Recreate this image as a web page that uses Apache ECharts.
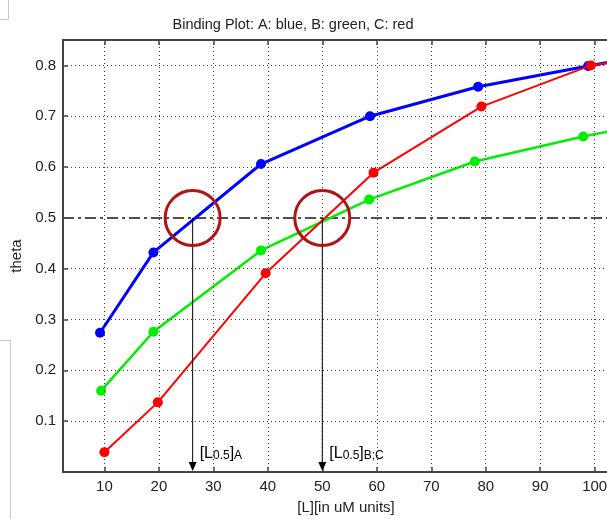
<!DOCTYPE html>
<html>
<head>
<meta charset="utf-8">
<script src="https://cdn.jsdelivr.net/npm/echarts@6/dist/echarts.min.js"></script>
<style>
  html, body { margin: 0; padding: 0; background: #fff; }
  #chart { width: 607px; height: 519px; }
</style>
</head>
<body>
<div id="chart"></div>
<script>
// Fractional saturation (theta) against ligand concentration for three proteins
const concA = [9.2, 19.0, 38.75, 58.75, 78.6, 98.8, 118.5];
const thetaA = [0.274, 0.432, 0.606, 0.700, 0.758, 0.799, 0.836];
const concB = [9.4, 19.0, 38.75, 58.6, 78.0, 97.9, 118.5];
const thetaB = [0.160, 0.276, 0.436, 0.536, 0.611, 0.660, 0.705];
const concC = [10.0, 19.8, 39.6, 59.4, 79.2, 99.3, 118.5];
const thetaC = [0.039, 0.137, 0.391, 0.589, 0.719, 0.800, 0.830];

// Half-saturation concentrations and their labels
const halfTheta = 0.5;
const halfConc = [26.2, 50.0];
const halfSubs = ['A', 'B;C'];

const xTicks = [10, 20, 30, 40, 50, 60, 70, 80, 90, 100];
const yTicks = [0.1, 0.2, 0.3, 0.4, 0.5, 0.6, 0.7, 0.8];

const X_MIN = 2.4, X_MAX = 106.3;
const FONT = 'Liberation Sans';
const pairs = (xs, ys) => xs.map((x, i) => [x, ys[i]]);

const chart = echarts.init(document.getElementById('chart'), null, { renderer: 'canvas' });

const frameLine = { lineStyle: { color: '#454545', width: 2 } };
const tickLine = { color: '#454545', width: 1.5 };

chart.setOption({
  backgroundColor: '#ffffff',
  animation: false,
  title: {
    text: 'Binding Plot: A: blue, B: green, C: red',
    left: 288, top: 12, textAlign: 'center',
    textStyle: { fontFamily: FONT, fontSize: 14.5, fontWeight: 'normal', color: '#222' }
  },
  // the plot box runs past the right edge of the page
  grid: { left: 63, top: 40, width: 566, height: 432, outerBoundsMode: 'none', containLabel: false },
  xAxis: [{
    type: 'value', min: X_MIN, max: X_MAX, position: 'bottom',
    name: '[L][in uM units]', nameLocation: 'middle', nameGap: 28,
    nameTextStyle: { fontFamily: FONT, fontSize: 15, color: '#222' },
    axisLine: frameLine,
    axisTick: { inside: true, length: 5, customValues: xTicks, lineStyle: tickLine },
    axisLabel: { customValues: xTicks, fontFamily: FONT, fontSize: 15, color: '#222', margin: 7 },
    splitLine: { show: false }
  }, {
    type: 'value', min: X_MIN, max: X_MAX, position: 'top',
    axisLine: frameLine,
    axisTick: { inside: true, length: 5, customValues: xTicks, lineStyle: tickLine },
    axisLabel: { show: false },
    splitLine: { show: false }
  }],
  yAxis: {
    type: 'value', min: 0, max: 0.85,
    name: 'theta', nameLocation: 'middle', nameGap: 36, nameRotate: 90,
    nameTextStyle: { fontFamily: FONT, fontSize: 15, color: '#222' },
    axisLine: { show: true, lineStyle: { color: '#454545', width: 2 } },
    axisTick: { show: true, inside: true, length: 5, customValues: yTicks, lineStyle: tickLine },
    axisLabel: {
      customValues: yTicks, fontFamily: FONT, fontSize: 15, color: '#222', margin: 7,
      formatter: v => v.toFixed(1)
    },
    splitLine: { show: false }
  },
  series: [
    {
      // dotted grid
      type: 'line', data: [], silent: true,
      markLine: {
        silent: true, symbol: 'none', label: { show: false },
        lineStyle: { type: [1, 3], color: '#3a3a3a', width: 1 },
        data: xTicks.map(v => ({ xAxis: v })).concat(yTicks.filter(v => v !== halfTheta).map(v => ({ yAxis: v })))
      }
    },
    {
      // theta = 0.5 reference line
      type: 'line', data: [[X_MIN, halfTheta], [X_MAX, halfTheta]], symbol: 'none', silent: true,
      lineStyle: { color: '#505050', width: 2, type: [11, 4, 3, 4] }, z: 2
    },
    {
      name: 'A', type: 'line', data: pairs(concA, thetaA),
      symbol: 'circle', symbolSize: 10, color: '#0000ff',
      lineStyle: { width: 3, color: '#0000ff' }, z: 4
    },
    {
      name: 'B', type: 'line', data: pairs(concB, thetaB),
      symbol: 'circle', symbolSize: 10, color: '#00ee00',
      lineStyle: { width: 2.5, color: '#00ee00' }, z: 4
    },
    {
      name: 'C', type: 'line', data: pairs(concC, thetaC),
      symbol: 'circle', symbolSize: 10, color: '#ff0000',
      lineStyle: { width: 2, color: '#ff0000' }, z: 5
    },
    {
      // half-saturation markers: circle, drop line with arrow, and label
      type: 'custom', z: 6, silent: true,
      data: halfConc.map(x => [x, halfTheta]),
      encode: { x: 0, y: 1 },
      renderItem: (params, api) => {
        const c = api.coord([api.value(0), halfTheta]);
        const b = api.coord([api.value(0), 0]);
        const sub = halfSubs[params.dataIndex];
        return {
          type: 'group',
          children: [
            { type: 'line', shape: { x1: c[0], y1: c[1], x2: b[0], y2: b[1] - 8 },
              style: { stroke: '#000', lineWidth: 1 } },
            { type: 'polygon', shape: { points: [[b[0] - 4, b[1] - 10], [b[0] + 4, b[1] - 10], [b[0], b[1] - 1]] },
              style: { fill: '#000' } },
            { type: 'circle', shape: { cx: c[0], cy: c[1], r: 27.5 },
              style: { fill: 'none', stroke: '#b01414', lineWidth: 3 } },
            { type: 'text', x: b[0] + 7, y: b[1] - 28,
              style: {
                text: '{m|[L}{s|0.5}{m|]}{s|' + sub + '}',
                rich: {
                  m: { fontFamily: FONT, fontSize: 16, color: '#111', lineHeight: 18, verticalAlign: 'bottom' },
                  s: { fontFamily: FONT, fontSize: 12, color: '#111', lineHeight: 14, verticalAlign: 'bottom' }
                }
              } }
          ]
        };
      }
    }
  ],
  graphic: [
    { type: 'polyline', shape: { points: [[0, 340.5], [10.5, 340.5], [10.5, 519]] },
      style: { stroke: '#c8c8c8', lineWidth: 1, fill: null }, silent: true },
    { type: 'polyline', shape: { points: [[0, 19.5], [8.5, 19.5], [8.5, 0]] },
      style: { stroke: '#c8c8c8', lineWidth: 1, fill: null }, silent: true }
  ]
});
</script>
</body>
</html>
